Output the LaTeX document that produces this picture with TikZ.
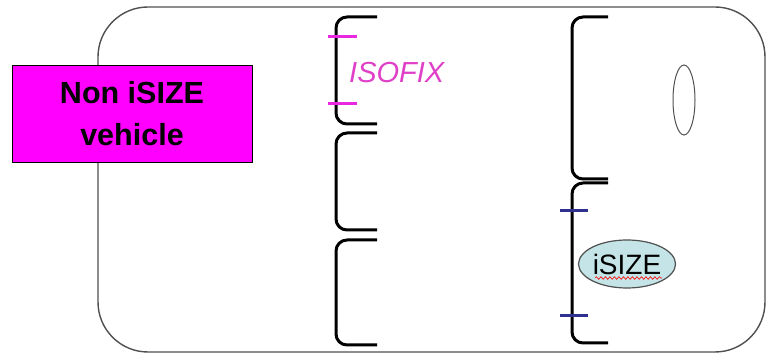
\documentclass[tikz,border=0pt]{standalone}
\usepackage{fontspec}
\setmainfont{Liberation Sans}
\usetikzlibrary{shapes.geometric,decorations.pathmorphing}
\definecolor{boxmag}{HTML}{FF00FF}
\definecolor{isomag}{HTML}{E040C8}
\definecolor{tickmag}{HTML}{E828E0}
\definecolor{tickblue}{HTML}{303090}
\definecolor{isizefill}{HTML}{C4E4E8}
\definecolor{cargray}{HTML}{505050}
\tikzset{
  carline/.style={draw=cargray, line width=1.4pt},
  seat/.style={draw=black, line width=3pt, rounded corners=11pt},
  isotick/.style={draw=tickmag, line width=3pt},
  isizetick/.style={draw=tickblue, line width=3pt},
}
\begin{document}
\begin{tikzpicture}[x=1pt,y=-1pt]
\useasboundingbox (0,0) rectangle (766,355);
\fill[white] (0,0) rectangle (766,355);
% car outline
\draw[carline, rounded corners=50pt] (98,7) rectangle (765,352);
% left seats
\draw[seat] (377,17) -- (336,17) -- (336,124) -- (377,124);
\draw[seat] (377,133) -- (336,133) -- (336,230) -- (377,230);
\draw[seat] (377,240) -- (336,240) -- (336,345) -- (377,345);
% right seats
\draw[seat] (608,17) -- (572,17) -- (572,179) -- (608,179);
\draw[seat] (608,183) -- (572,183) -- (572,343) -- (608,343);
% ISOFIX ticks
\draw[isotick] (328,37) -- (357,37);
\draw[isotick] (328,104) -- (357,104);
% iSIZE ticks
\draw[isizetick] (560,211) -- (588,211);
\draw[isizetick] (560,316) -- (588,316);
% labels
\node[anchor=west, inner sep=0, text=isomag, font=\itshape\fontsize{29}{29}\selectfont] (isofix) at (349,73) {ISOFIX};
\node[draw=black, line width=0.8pt, fill=boxmag, minimum width=240pt, minimum height=97pt, align=center, font=\bfseries\fontsize{30.5}{42}\selectfont] (nonisize) at (132,113.5) {Non iSIZE\\vehicle};
\node[ellipse, draw=cargray, line width=1pt, minimum width=22pt, minimum height=70pt, inner sep=0] (mirror) at (684,100) {};
\node[ellipse, draw=cargray, line width=1.2pt, fill=isizefill, minimum width=97pt, minimum height=48pt, inner sep=0, font=\fontsize{28}{28}\selectfont] (isize) at (627,264) {iSIZE};
\draw[red, line width=0.6pt, decorate, decoration={snake, amplitude=1.3pt, segment length=4.5pt}, shift={(isize.center)}] (-32,14) -- (35,14);
\end{tikzpicture}
\end{document}
